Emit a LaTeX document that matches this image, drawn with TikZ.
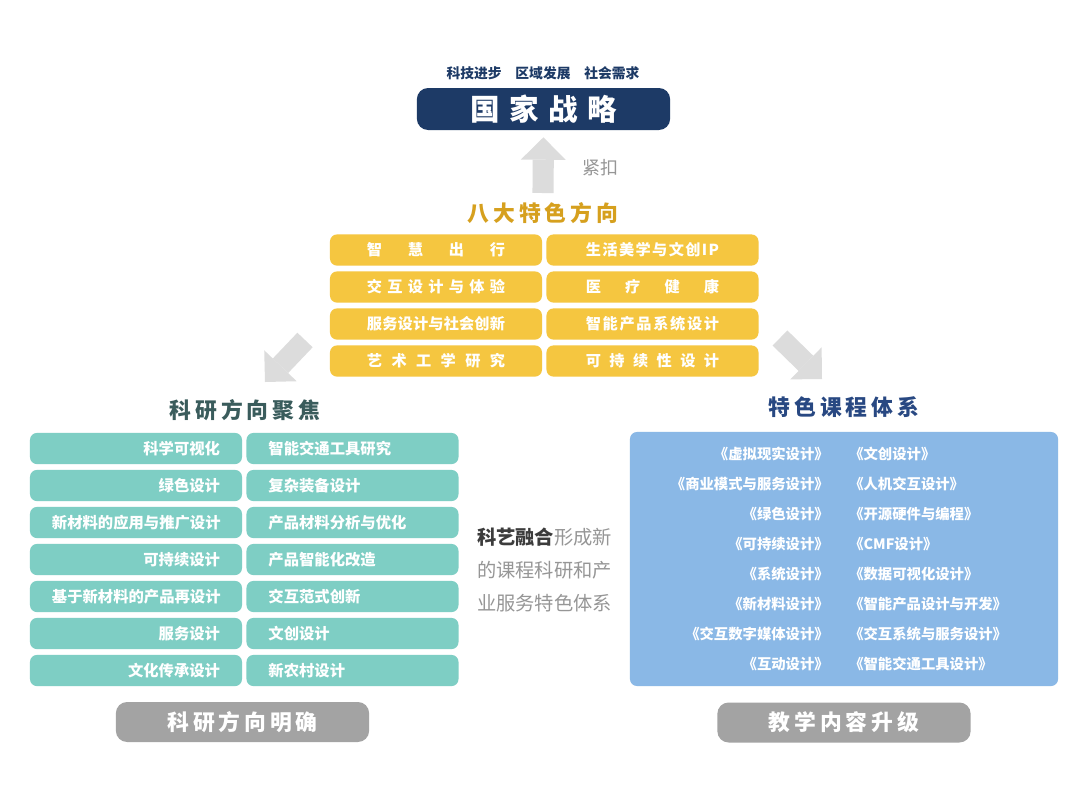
\documentclass[tikz,border=0pt]{standalone}
\usepackage{fontspec}
\setmainfont{Noto Sans CJK SC}
\newfontfamily\heavy{Noto Sans CJK SC Black}
\usetikzlibrary{arrows.meta}
\usepackage{xcolor}

\definecolor{navybox}{RGB}{29,58,102}
\definecolor{yelbox}{RGB}{245,198,64}
\definecolor{yeltxt}{RGB}{214,160,30}
\definecolor{tealbox}{RGB}{126,206,196}
\definecolor{tealtxt}{RGB}{58,92,92}
\definecolor{bluebox}{RGB}{138,184,230}
\definecolor{bluetxt}{RGB}{40,72,130}
\definecolor{greybox}{RGB}{163,163,163}
\definecolor{arrowgrey}{RGB}{220,220,220}
\definecolor{midgrey}{RGB}{150,150,150}
\definecolor{darktxt}{RGB}{60,60,60}

% spread the characters of a yellow label over a fixed width
\newcommand{\ysp}[2][3.45cm]{\makebox[#1][s]{\spaceskip=0pt plus 1fil #2}}

\begin{document}
\begin{tikzpicture}[x=0.025cm, y=-0.025cm,
    yel/.style={fill=yelbox, rounded corners=5pt, minimum width=5.3cm, minimum height=0.78cm,
        inner sep=0pt, text=white, font=\bfseries\fontsize{10.8}{13}\selectfont},
    tealL/.style={fill=tealbox, rounded corners=5pt, minimum width=5.3cm, minimum height=0.78cm,
        text width=4.2cm, align=right, text=white, font=\bfseries\fontsize{10.9}{13}\selectfont},
    tealR/.style={tealL, align=left},
    head/.style={font=\heavy\fontsize{15.5}{18}\selectfont\addfontfeature{LetterSpace=18}},
    tag/.style={fill=greybox, rounded corners=8pt, minimum width=6.33cm, minimum height=1cm,
        text=white, font=\heavy\fontsize{15.5}{18}\selectfont\addfontfeature{LetterSpace=18}},
    crs/.style={text=white, font=\bfseries\fontsize{10.2}{12}\selectfont, inner sep=0pt},
    bigarrow/.style={draw=arrowgrey, line width=15pt,
        -{Triangle[width=1.12cm, length=0.56cm, line width=0pt]}}]

    \useasboundingbox[fill=white] (0,0) rectangle (1080,792);

    % Estratégia nacional
    \node[font=\bfseries\fontsize{9.8}{12}\selectfont, text=navybox] (needs) at (543,73)
        {科技进步\quad 区域发展\quad 社会需求};
    \node[fill=navybox, rounded corners=8pt, minimum width=6.33cm, minimum height=1.05cm, text=white,
        font=\heavy\fontsize{21}{24}\selectfont\addfontfeature{LetterSpace=32}] (strategy) at (543.5,109) {国家战略};

    % Seta para cima
    \coordinate (upfrom) at (543,193);
    \draw[bigarrow, shorten >=5pt] (upfrom) -- (strategy.south);
    \node[font=\fontsize{12.8}{15}\selectfont, text=midgrey] (tight) at (600,168) {紧扣};

    % Oito direções
    \node[head, text=yeltxt] (eight) at (543,213) {八大特色方向};
    \node[yel] (y1) at (436,250) {\ysp{智 慧 出 行}};
    \node[yel] (y2) at (652.5,250) {\ysp[3.33cm]{生 活 美 学 与 文 创 I P}};
    \node[yel] (y3) at (436,287) {\ysp{交 互 设 计 与 体 验}};
    \node[yel] (y4) at (652.5,287) {\ysp[3.33cm]{医 疗 健 康}};
    \node[yel] (y5) at (436,324) {\ysp{服 务 设 计 与 社 会 创 新}};
    \node[yel] (y6) at (652.5,324) {\ysp[3.33cm]{智 能 产 品 系 统 设 计}};
    \node[yel] (y7) at (436,361) {\ysp{艺 术 工 学 研 究}};
    \node[yel] (y8) at (652.5,361) {\ysp[3.33cm]{可 持 续 性 设 计}};

    % Setas diagonais
    \coordinate (lfrom) at (305,340);
    \coordinate (lto) at (265,382);
    \draw[bigarrow] (lfrom) -- (lto);
    \coordinate (rfrom) at (780,338);
    \coordinate (rto) at (822,379);
    \draw[bigarrow] (rfrom) -- (rto);

    % Pesquisa (esquerda)
    \node[head, text=tealtxt] (focus) at (245,410) {科研方向聚焦};
    \node[tealL] (t1) at (136,448.5) {科学可视化};
    \node[tealR] (t2) at (352.5,448.5) {智能交通工具研究};
    \node[tealL] (t3) at (136,485.5) {绿色设计};
    \node[tealR] (t4) at (352.5,485.5) {复杂装备设计};
    \node[tealL] (t5) at (136,522.5) {新材料的应用与推广设计};
    \node[tealR] (t6) at (352.5,522.5) {产品材料分析与优化};
    \node[tealL] (t7) at (136,559.5) {可持续设计};
    \node[tealR] (t8) at (352.5,559.5) {产品智能化改造};
    \node[tealL] (t9) at (136,596.5) {基于新材料的产品再设计};
    \node[tealR] (t10) at (352.5,596.5) {交互范式创新};
    \node[tealL] (t11) at (136,633.5) {服务设计};
    \node[tealR] (t12) at (352.5,633.5) {文创设计};
    \node[tealL] (t13) at (136,670.5) {文化传承设计};
    \node[tealR] (t14) at (352.5,670.5) {新农村设计};
    \node[tag] (clear) at (242.5,722) {科研方向明确};

    % Texto central
    \node[font=\fontsize{13.7}{23.4}\selectfont, text=midgrey, align=left] (blend) at (544.5,570)
        {{\bfseries\color{darktxt}科艺融合}形成新\\的课程科研和产\\业服务特色体系};

    % Cursos (direita)
    \node[head, text=bluetxt] (course) at (844,407) {特色课程体系};
    \node[fill=bluebox, rounded corners=5pt, minimum width=10.7cm, minimum height=6.35cm] (cbox) at (844,559) {};
    \node[crs, anchor=east] (c1) at (829,454) {《虚拟现实设计》};
    \node[crs, anchor=west] (c2) at (849,454) {《文创设计》};
    \node[crs, anchor=east] (c3) at (829,484) {《商业模式与服务设计》};
    \node[crs, anchor=west] (c4) at (849,484) {《人机交互设计》};
    \node[crs, anchor=east] (c5) at (829,514) {《绿色设计》};
    \node[crs, anchor=west] (c6) at (849,514) {《开源硬件与编程》};
    \node[crs, anchor=east] (c7) at (829,544) {《可持续设计》};
    \node[crs, anchor=west] (c8) at (849,544) {《CMF设计》};
    \node[crs, anchor=east] (c9) at (829,574) {《系统设计》};
    \node[crs, anchor=west] (c10) at (849,574) {《数据可视化设计》};
    \node[crs, anchor=east] (c11) at (829,604) {《新材料设计》};
    \node[crs, anchor=west] (c12) at (849,604) {《智能产品设计与开发》};
    \node[crs, anchor=east] (c13) at (829,634) {《交互数字媒体设计》};
    \node[crs, anchor=west] (c14) at (849,634) {《交互系统与服务设计》};
    \node[crs, anchor=east] (c15) at (829,664) {《互动设计》};
    \node[crs, anchor=west] (c16) at (849,664) {《智能交通工具设计》};
    \node[tag] (upgrade) at (844,722.5) {教学内容升级};
\end{tikzpicture}
\end{document}
